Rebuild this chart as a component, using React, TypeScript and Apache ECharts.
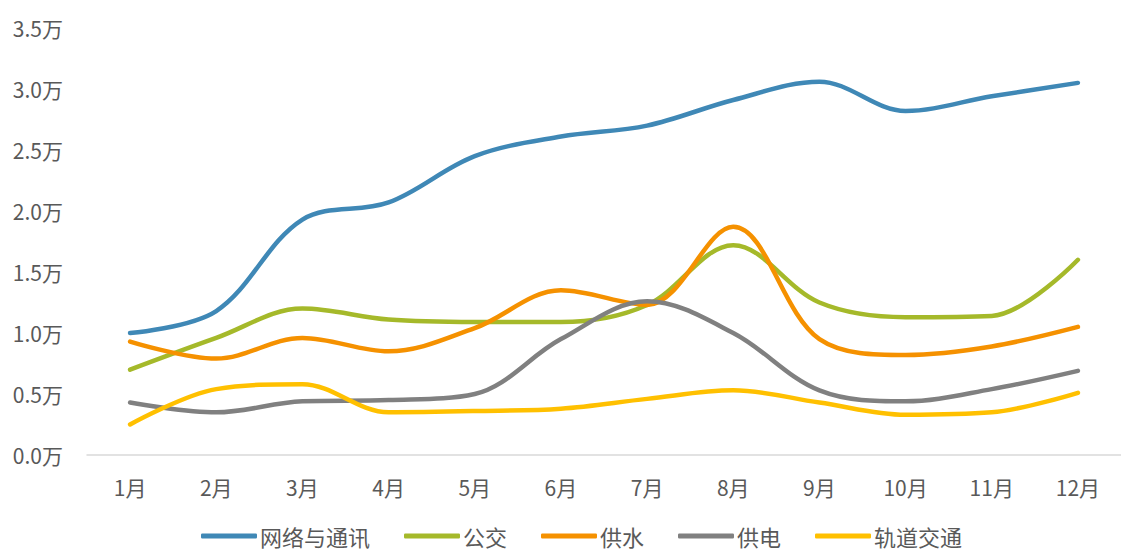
import React, { useEffect, useRef } from "react";
import * as echarts from "echarts";

const months = ["1月", "2月", "3月", "4月", "5月", "6月", "7月", "8月", "9月", "10月", "11月", "12月"];
const network = [1.0, 1.18, 1.93, 2.07, 2.45, 2.61, 2.7, 2.91, 3.06, 2.82, 2.94, 3.05];
const bus = [0.7, 0.96, 1.2, 1.11, 1.09, 1.09, 1.23, 1.72, 1.25, 1.13, 1.14, 1.6];
const water = [0.93, 0.79, 0.96, 0.85, 1.04, 1.35, 1.23, 1.87, 0.95, 0.82, 0.89, 1.05];
const power = [0.43, 0.35, 0.44, 0.45, 0.5, 0.95, 1.26, 1.0, 0.53, 0.44, 0.54, 0.69];
const rail = [0.25, 0.54, 0.58, 0.35, 0.36, 0.38, 0.46, 0.53, 0.43, 0.33, 0.35, 0.51];
const seriesNames = ["网络与通讯", "公交", "供水", "供电", "轨道交通"];
const seriesColors = ["#3F88B6", "#A5B92A", "#F59100", "#808080", "#FFC000"];
const yTicks = { min: 0, max: 3.5, interval: 0.5 };

export default function App() {
  const ref = useRef<HTMLDivElement>(null);
  useEffect(() => {
    if (!ref.current) return;
    const chart = echarts.init(ref.current, undefined, { renderer: "svg" });
    const data = [network, bus, water, power, rail];
    const font = "'Noto Sans CJK SC', sans-serif";
    chart.setOption({
      animation: false,
      backgroundColor: "#ffffff",
      grid: { left: 87, top: 28, width: 1045, height: 427, containLabel: false },
      legend: {
        top: 520,
        left: 196,
        itemWidth: 56,
        itemHeight: 5,
        itemGap: 34,
        icon: "roundRect",
        textStyle: {
          color: "#595959",
          fontSize: 22,
          lineHeight: 22,
          fontFamily: font,
          padding: [0, 0, 0, -2],
        },
        data: seriesNames,
      },
      xAxis: {
        type: "category",
        data: months,
        boundaryGap: true,
        axisLine: { show: true, lineStyle: { color: "#D9D9D9", width: 1.5 } },
        axisTick: { show: false },
        axisLabel: { color: "#595959", fontSize: 21, fontFamily: font, margin: 21 },
      },
      yAxis: {
        type: "value",
        min: yTicks.min,
        max: yTicks.max,
        interval: yTicks.interval,
        axisLine: { show: false },
        axisTick: { show: false },
        splitLine: { show: false },
        axisLabel: {
          color: "#595959",
          fontSize: 21,
          fontFamily: font,
          margin: 24,
          formatter: (v: number) => v.toFixed(1) + "万",
        },
      },
      series: seriesNames.map((name, i) => ({
        name,
        type: "line",
        data: data[i],
        smooth: 0.35,
        showSymbol: false,
        symbol: "none",
        color: seriesColors[i],
        lineStyle: { width: 4.5, color: seriesColors[i], cap: "round" },
      })),
    });
    return () => chart.dispose();
  }, []);
  return <div ref={ref} style={{ width: 1121, height: 552, position: "absolute", left: 0, top: 0 }} />;
}
